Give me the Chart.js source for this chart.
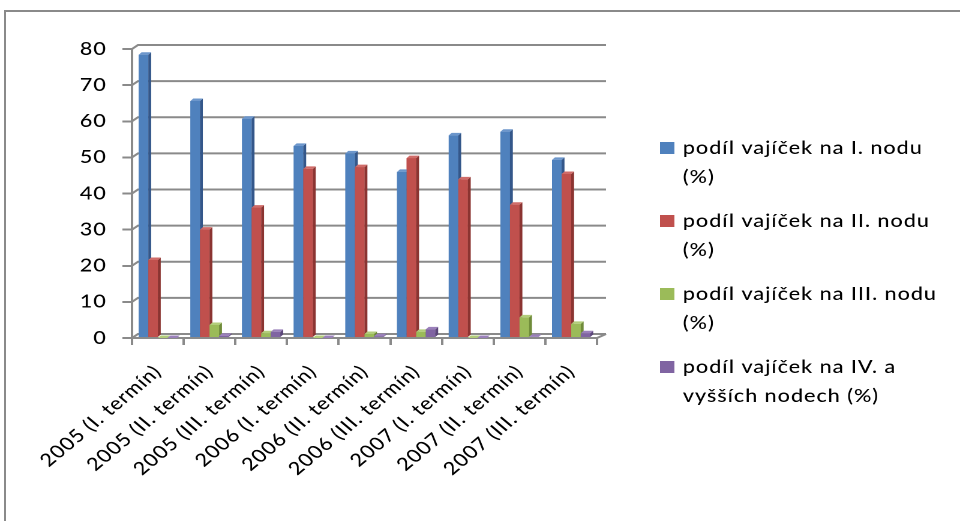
<!DOCTYPE html>
<html lang="cs">
<head>
<meta charset="utf-8">
<title>Podíl vajíček na nodech</title>
<script src="https://cdn.jsdelivr.net/npm/chart.js@4.4.1/dist/chart.umd.min.js"></script>
<style>
  html, body { margin: 0; padding: 0; background: #fff; overflow: hidden; width: 960px; height: 521px; }
  #frame { position: absolute; left: 4px; top: 10px; width: 1000px; height: 600px;
           border-left: 2px solid #8a8a8a; border-top: 2px solid #8a8a8a; }
  #wrap { position: absolute; left: 0; top: 0; width: 800px; height: 521px;
          transform: scaleX(1.2); transform-origin: 0 0; }
  #c { width: 800px; height: 521px; display: block; }
</style>
</head>
<body>
<div id="frame"></div>
<div id="wrap"><canvas id="c" width="800" height="521"></canvas></div>
<script>
// Termíny odběru
const categories = [
  '2005 (I. termín)', '2005 (II. termín)', '2005 (III. termín)',
  '2006 (I. termín)', '2006 (II. termín)', '2006 (III. termín)',
  '2007 (I. termín)', '2007 (II. termín)', '2007 (III. termín)'
];

// Podíl vajíček (%) podle nodu
const nodeI   = [78.4, 65.6, 60.7, 53.2, 51.1, 46.0, 56.1, 57.1, 49.3];
const nodeII  = [21.6, 30.0, 36.1, 46.8, 47.3, 49.8, 43.9, 36.9, 45.4];
const nodeIII = [0, 3.6, 1.3, 0, 1.1, 1.7, 0, 5.7, 3.9];
const nodeIV  = [0, 0.6, 1.7, 0, 0.5, 2.4, 0, 0.3, 1.3];

// Legenda (řádky textu)
const seriesNames = [
  ['podíl vajíček na I. nodu', '(%)'],
  ['podíl vajíček na II. nodu', '(%)'],
  ['podíl vajíček na III. nodu', '(%)'],
  ['podíl vajíček na IV. a', 'vyšších nodech (%)']
];

// Osa Y
const yMin = 0, yMax = 80, yStep = 10;

// Barvy: čelní stěna, boční stěna, horní plocha
const shades = [
  { front: '#4F81BD', side: '#34578A', top: '#6C96CB' },
  { front: '#C0504D', side: '#8B3431', top: '#D06C69' },
  { front: '#9BBB59', side: '#6F8B39', top: '#B2CD7B' },
  { front: '#8064A2', side: '#5B4679', top: '#9A80BA' }
];

const gridColor = '#8a8a8a';
const spacing = '0.8px';
const fontFamily = 'Lato, "Open Sans", sans-serif';
const depth = { dx: 2.4, dy: 2.5 };
const wall = { dxL: 5, dxR: 7.5, dy: 4 };

Chart.defaults.font.family = fontFamily;
Chart.defaults.font.size = 18;
Chart.defaults.font.weight = 500;
Chart.defaults.color = '#000';

// mezery mezi písmeny
const letterSpacing = {
  id: 'letterSpacing',
  beforeUpdate(chart) { chart.ctx.letterSpacing = spacing; },
  beforeDraw(chart) { chart.ctx.letterSpacing = spacing; }
};

// zadní stěna s mřížkou
const backWall = {
  id: 'backWall',
  beforeDatasetsDraw(chart) {
    const { ctx, chartArea: a, scales: { y } } = chart;
    ctx.save();
    ctx.strokeStyle = gridColor;
    ctx.lineWidth = 2;
    y.ticks.forEach(t => {
      const py = y.getPixelForValue(t.value);
      ctx.beginPath();
      ctx.moveTo(a.left, py);
      ctx.lineTo(a.left + wall.dxL, py - wall.dy);
      ctx.lineTo(a.right + wall.dxR, py - wall.dy);
      ctx.stroke();
    });
    const p0 = y.getPixelForValue(0);
    ctx.beginPath();
    ctx.moveTo(a.right, p0);
    ctx.lineTo(a.right + wall.dxR, p0 - wall.dy);
    ctx.stroke();
    ctx.restore();
  }
};

// prostorové sloupce: čelo, bok a vrchní plocha, zleva doprava
const bars3d = {
  id: 'bars3d',
  afterDatasetsDraw(chart) {
    const ctx = chart.ctx;
    const metas = chart.data.datasets.map((d, i) => chart.getDatasetMeta(i));
    ctx.save();
    for (let j = 0; j < chart.data.labels.length; j++) {
      metas.forEach((meta, i) => {
        const bar = meta.data[j];
        if (!bar) return;
        const { x, y, base, width } = bar.getProps(['x', 'y', 'base', 'width'], true);
        const L = x - width / 2, R = x + width / 2;
        const s = shades[i];
        ctx.fillStyle = s.front;
        ctx.fillRect(L, y, width, base - y);
        ctx.fillStyle = s.side;
        ctx.beginPath();
        ctx.moveTo(R, y);
        ctx.lineTo(R + depth.dx, y - depth.dy);
        ctx.lineTo(R + depth.dx, base - depth.dy);
        ctx.lineTo(R, base);
        ctx.closePath();
        ctx.fill();
        ctx.fillStyle = s.top;
        ctx.beginPath();
        ctx.moveTo(L, y);
        ctx.lineTo(L + depth.dx, y - depth.dy);
        ctx.lineTo(R + depth.dx, y - depth.dy);
        ctx.lineTo(R, y);
        ctx.closePath();
        ctx.fill();
      });
    }
    ctx.restore();
  }
};

// legenda vpravo, dvouřádkové položky
const sideLegend = {
  id: 'sideLegend',
  afterDraw(chart) {
    const ctx = chart.ctx;
    const boxX = 550, box = 12, textX = 569;
    const firstY = 148, lineH = 29, itemGap = 73;
    ctx.save();
    ctx.letterSpacing = spacing;
    ctx.font = '500 18px ' + fontFamily;
    ctx.textBaseline = 'middle';
    ctx.textAlign = 'left';
    chart.data.datasets.forEach((ds, i) => {
      const cy = firstY + i * itemGap;
      ctx.fillStyle = ds.backgroundColor;
      ctx.fillRect(boxX, cy - box / 2, box, box);
      ctx.fillStyle = '#000';
      seriesNames[i].forEach((line, k) => ctx.fillText(line, textX, cy + k * lineH));
    });
    ctx.restore();
  }
};

const series = [nodeI, nodeII, nodeIII, nodeIV];

new Chart(document.getElementById('c'), {
  type: 'bar',
  data: {
    labels: categories,
    datasets: series.map((values, i) => ({
      label: seriesNames[i].join(' '),
      data: values,
      backgroundColor: shades[i].front,
      borderWidth: 0,
      categoryPercentage: 0.74,
      barPercentage: 1.0
    }))
  },
  options: {
    responsive: false,
    animation: false,
    devicePixelRatio: 2,
    layout: { padding: { left: 0, top: 49, right: 302.5, bottom: 0 } },
    plugins: {
      legend: { display: false },
      tooltip: { enabled: false }
    },
    scales: {
      x: {
        offset: true,
        grid: { offset: true, drawOnChartArea: false, drawTicks: true, tickLength: 7,
                color: gridColor, lineWidth: 2 },
        border: { display: true, color: gridColor, width: 2 },
        ticks: { autoSkip: false, minRotation: 45, maxRotation: 45, padding: 16 },
        afterFit(scale) { scale.height = 183; }
      },
      y: {
        min: yMin, max: yMax,
        grid: { drawOnChartArea: false, drawTicks: true, tickLength: 8,
                color: gridColor, lineWidth: 2 },
        border: { display: true, color: gridColor, width: 2 },
        ticks: { stepSize: yStep, padding: 13 },
        afterFit(scale) { scale.width = 110; }
      }
    }
  },
  plugins: [letterSpacing, backWall, bars3d, sideLegend]
});
</script>
</body>
</html>
